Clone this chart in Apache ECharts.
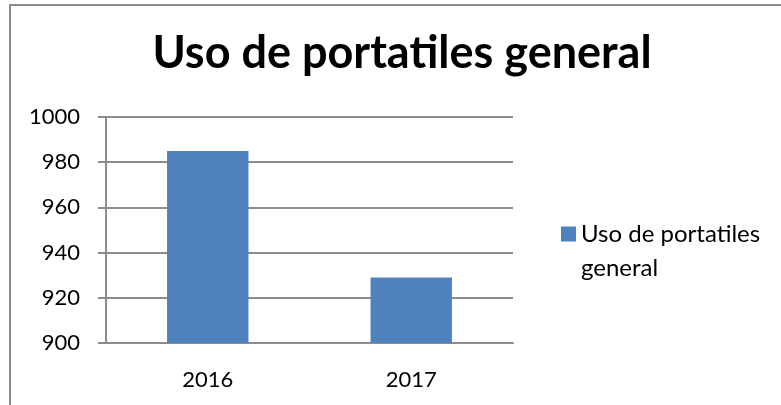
<!DOCTYPE html>
<html>
<head>
<meta charset="utf-8">
<script src="https://cdn.jsdelivr.net/npm/echarts@6/dist/echarts.min.js"></script>
<style>
  html, body { margin: 0; padding: 0; background: #fff; }
  #chart { width: 781px; height: 405px; }
</style>
</head>
<body>
<div id="chart"></div>
<script>
  const titleText = 'Uso de portatiles general';
  const seriesName = 'Uso de portatiles general';
  const categories = ['2016', '2017'];
  const values = [985, 929];
  const yTicks = { min: 900, max: 1000, step: 20 };

  const fontFamily = 'Lato, "Open Sans", sans-serif';
  const gray = '#8c8c8c';
  const chart = echarts.init(document.getElementById('chart'));

  chart.setOption({
    animation: false,
    graphic: [{
      type: 'rect',
      shape: { x: 10, y: 5, width: 800, height: 500 },
      style: { fill: 'none', stroke: gray, lineWidth: 2 },
      silent: true
    }],
    title: {
      text: titleText,
      left: 397,
      textAlign: 'center',
      top: 26,
      textStyle: { fontFamily: fontFamily, fontSize: 45, fontWeight: 'bold', color: '#000' }
    },
    legend: {
      left: 556,
      top: 178,
      orient: 'vertical',
      icon: 'rect',
      itemWidth: 15,
      itemHeight: 15,
      // blank first line keeps the icon level with the first text line
      formatter: () => ' \nUso de portatiles\ngeneral',
      textStyle: { fontFamily: fontFamily, fontSize: 24, color: '#000', lineHeight: 34 }
    },
    grid: { left: 106, right: 268, top: 117, bottom: 62 },
    xAxis: {
      type: 'category',
      data: categories,
      axisLine: { lineStyle: { color: gray, width: 2 } },
      axisTick: { length: 8, lineStyle: { color: gray, width: 2 } },
      axisLabel: { fontFamily: fontFamily, fontSize: 22, color: '#000', margin: 26 }
    },
    yAxis: {
      type: 'value',
      min: yTicks.min,
      max: yTicks.max,
      interval: yTicks.step,
      axisLine: { show: true, lineStyle: { color: gray, width: 2 } },
      axisTick: { show: true, length: 8, lineStyle: { color: gray, width: 2 } },
      axisLabel: { fontFamily: fontFamily, fontSize: 22, color: '#000', margin: 26, formatter: v => String(v) },
      splitLine: { lineStyle: { color: gray, width: 2 } }
    },
    series: [{
      name: seriesName,
      type: 'bar',
      data: values,
      barWidth: '40%',
      itemStyle: { color: '#4f81bd' }
    }]
  });
</script>
</body>
</html>
